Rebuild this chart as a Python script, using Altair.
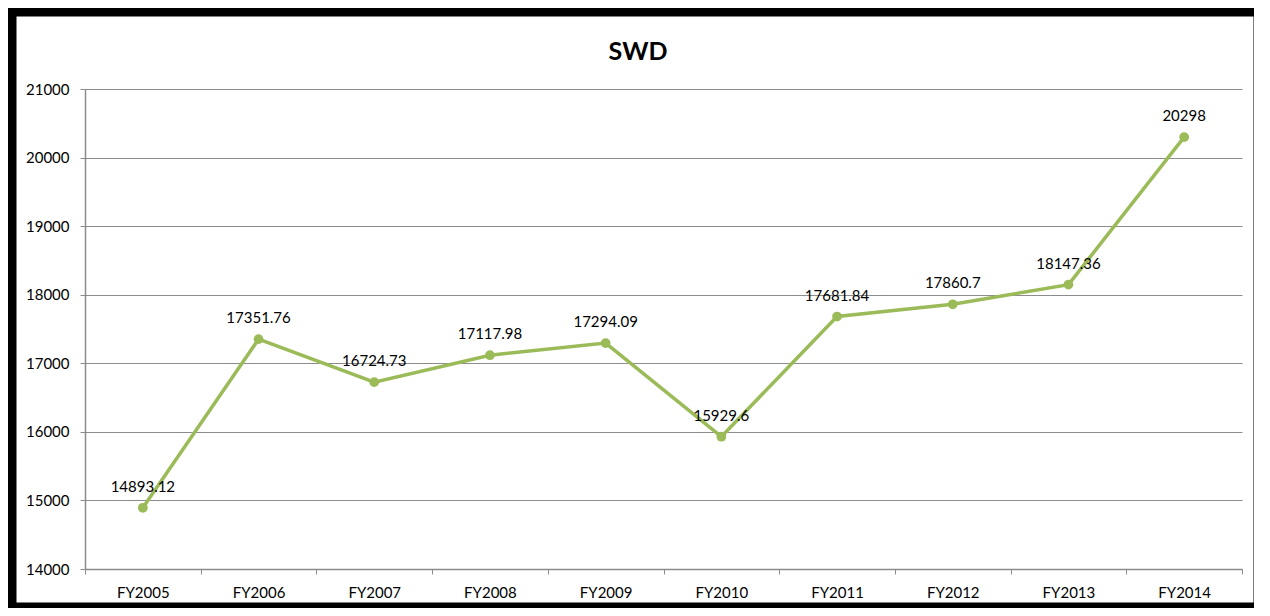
import altair as alt
import pandas as pd

years = ["FY2005", "FY2006", "FY2007", "FY2008", "FY2009",
         "FY2010", "FY2011", "FY2012", "FY2013", "FY2014"]
values = [14893.12, 17351.76, 16724.73, 17117.98, 17294.09,
          15929.6, 17681.84, 17860.7, 18147.36, 20298]
labels = ["14893.12", "17351.76", "16724.73", "17117.98", "17294.09",
          "15929.6", "17681.84", "17860.7", "18147.36", "20298"]
y_ticks = [14000, 15000, 16000, 17000, 18000, 19000, 20000, 21000]
title_text = "SWD"

df = pd.DataFrame({"year": years, "value": values, "label": labels})

FONT = "Lato"
GREEN = "#9BBB59"
GRID = "#8C8C8C"

x_enc = alt.X("year:N", sort=years, bandPosition=0.5,
              scale=alt.Scale(type="band", paddingInner=0, paddingOuter=0),
              axis=alt.Axis(title=None, labelAngle=0, tickBand="extent",
                            labelFont=FONT, labelFontSize=15, labelColor="#000000",
                            labelPadding=11, tickSize=5, tickColor=GRID,
                            domainColor=GRID, domainWidth=1.5, grid=False))
y_enc = alt.Y("value:Q", scale=alt.Scale(domain=[14000, 21000], nice=False, zero=False),
              axis=alt.Axis(title=None, values=y_ticks, format="d", labelFont=FONT,
                            labelFontSize=15, labelColor="#000000", labelPadding=11,
                            tickSize=5, tickColor=GRID, domainColor=GRID, domainWidth=1.5,
                            grid=True, gridColor=GRID, gridWidth=1))

base = alt.Chart(df)

line = base.mark_line(color=GREEN, strokeWidth=3.5).encode(x=x_enc, y=y_enc)
pts = base.mark_circle(color=GREEN, size=95, opacity=1).encode(x=x_enc, y=y_enc)
txt = base.mark_text(font=FONT, fontSize=15, color="#000000", dy=-21,
                     baseline="middle").encode(x=x_enc, y=y_enc, text="label:N")

one = alt.Chart(pd.DataFrame({"t": [title_text]}))

frame = one.mark_rect(
    fill=None, stroke="#000000", strokeWidth=9, clip=False
).encode(x=alt.value(-73), x2=alt.value(1173), y=alt.value(-77), y2=alt.value(518))

title = one.mark_text(font=FONT, fontSize=25, fontWeight="bold", color="#000000",
                      align="center", baseline="alphabetic", clip=False).encode(
    x=alt.value(553), y=alt.value(-29), text="t:N")

chart = alt.layer(line, pts, txt, frame, title).properties(
    width=1157, height=480,
    padding={"left": 77, "top": 81, "right": 12, "bottom": 39},
    autosize=alt.AutoSizeParams(type="none"),
).configure_view(stroke=None)

chart.save("out.html", embed_options={"renderer": "svg", "actions": False})
